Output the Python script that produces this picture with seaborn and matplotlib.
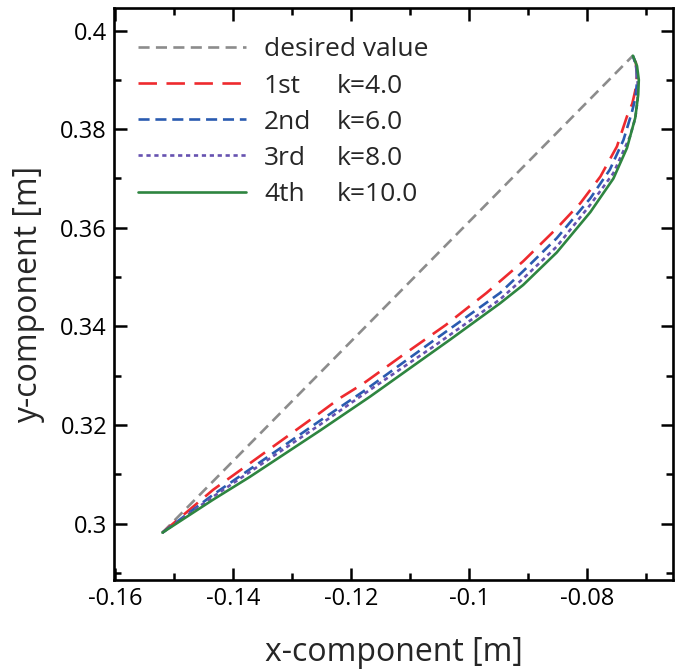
import matplotlib
matplotlib.use("Agg")
import matplotlib.pyplot as plt
import seaborn as sns
import pandas as pd
from matplotlib.ticker import MultipleLocator, FuncFormatter

# ---- data ----
desired_x = [-0.1520, -0.0723]
desired_y = [0.2982, 0.3949]

first_x = [-0.1520, -0.1434, -0.1253, -0.1219, -0.1180, -0.1115, -0.1040, -0.0971, -0.0909,
           -0.0852, -0.0812, -0.0778, -0.0750, -0.0733, -0.0724, -0.0719, -0.0716, -0.0718, -0.0723]
first_y = [0.2982, 0.3069, 0.3225, 0.3255, 0.3284, 0.3340, 0.3403, 0.3468, 0.3532,
           0.3599, 0.3650, 0.3704, 0.3765, 0.3826, 0.3852, 0.3878, 0.3910, 0.3935, 0.3949]

second_x = [-0.1520, -0.1434, -0.1253, -0.1180, -0.1060, -0.0948, -0.0909, -0.0852, -0.0795,
            -0.0762, -0.0739, -0.0725, -0.0719, -0.0716, -0.0717, -0.0723]
second_y = [0.2982, 0.3059, 0.3209, 0.3268, 0.3372, 0.3468, 0.3512, 0.3579, 0.3660,
            0.3718, 0.3778, 0.3833, 0.3862, 0.3895, 0.3930, 0.3949]

third_x = [-0.1520, -0.1434, -0.1253, -0.1180, -0.1060, -0.0948, -0.0909, -0.0852, -0.0795,
           -0.0756, -0.0728, -0.0719, -0.0715, -0.0715, -0.0718, -0.0723]
third_y = [0.2982, 0.3055, 0.3201, 0.3262, 0.3360, 0.3455, 0.3497, 0.3562, 0.3647,
           0.3711, 0.3785, 0.3822, 0.3860, 0.3900, 0.3930, 0.3949]

fourth_x = [-0.1520, -0.1434, -0.1372, -0.1253, -0.1168, -0.1100, -0.1033, -0.0948, -0.0909,
            -0.0852, -0.0795, -0.0756, -0.0733, -0.0719, -0.0714, -0.0713, -0.0716, -0.0723]
fourth_y = [0.2982, 0.3049, 0.3095, 0.3189, 0.3258, 0.3316, 0.3373, 0.3447, 0.3484,
            0.3550, 0.3632, 0.3700, 0.3762, 0.3823, 0.3870, 0.3900, 0.3928, 0.3949]

series_names = ["desired value", "1st", "2nd", "3rd", "4th"]
k_labels = ["", "k=4.0", "k=6.0", "k=8.0", "k=10.0"]
x_ticks = [-0.16, -0.14, -0.12, -0.10, -0.08]
y_ticks = [0.30, 0.32, 0.34, 0.36, 0.38, 0.40]

colors = ["#8c8c8c", "#ee2a2e", "#2a5bb0", "#6652b0", "#2e8540"]
styles = [(0, (4.2, 2.4)), (0, (7, 3.6)), (0, (4.2, 2.2)), (0, (1.6, 1.4)), "-"]

sns.set_style("ticks")
plt.rcParams["font.family"] = ["Open Sans", "DejaVu Sans"]
plt.rcParams["axes.unicode_minus"] = False

fig = plt.figure(figsize=(6.81, 6.71), dpi=100)
ax = fig.add_axes([0.1674, 0.1356, 0.8209, 0.852])

data = [(desired_x, desired_y), (first_x, first_y), (second_x, second_y),
        (third_x, third_y), (fourth_x, fourth_y)]
for (xs, ys), name, c, ls in zip(data, series_names, colors, styles):
    df = pd.DataFrame({"x": xs, "y": ys})
    sns.lineplot(data=df, x="x", y="y", sort=False, estimator=None, color=c,
                 linestyle=ls, linewidth=1.9, label=name, ax=ax)

ax.set_xlim(-0.1602, -0.0655)
ax.set_ylim(0.2886, 0.4045)
ax.set_xticks(x_ticks)
ax.set_yticks(y_ticks)
ax.xaxis.set_minor_locator(MultipleLocator(0.01))
ax.yaxis.set_minor_locator(MultipleLocator(0.01))
fmt = FuncFormatter(lambda v, p: ("%g" % round(v, 4)))
ax.xaxis.set_major_formatter(fmt)
ax.yaxis.set_major_formatter(fmt)
ax.tick_params(which="both", direction="in", top=True, right=True, width=1.8,
               labelsize=17, colors="black")
ax.tick_params(which="major", length=9, pad=5)
ax.tick_params(which="minor", length=5)
for s in ax.spines.values():
    s.set_linewidth(1.9)
    s.set_color("black")

ax.set_xlabel("x-component [m]", fontsize=23, labelpad=18)
ax.set_ylabel("y-component [m]", fontsize=23, labelpad=11)

leg = ax.legend(loc="upper left", frameon=False, fontsize=19, handlelength=4.1,
                handletextpad=0.68, labelspacing=0.42, borderaxespad=0.25,
                bbox_to_anchor=(0.012, 0.979))

fig.canvas.draw()
for t, kl in zip(leg.get_texts(), k_labels):
    if not kl:
        continue
    bb = t.get_window_extent()
    ycen = (bb.y0 + bb.y1) / 2
    fig.text(337 / fig.bbox.width, ycen / fig.bbox.height, kl, fontsize=19,
             va="center", ha="left", transform=fig.transFigure)

fig.savefig("out.png", dpi=100)
